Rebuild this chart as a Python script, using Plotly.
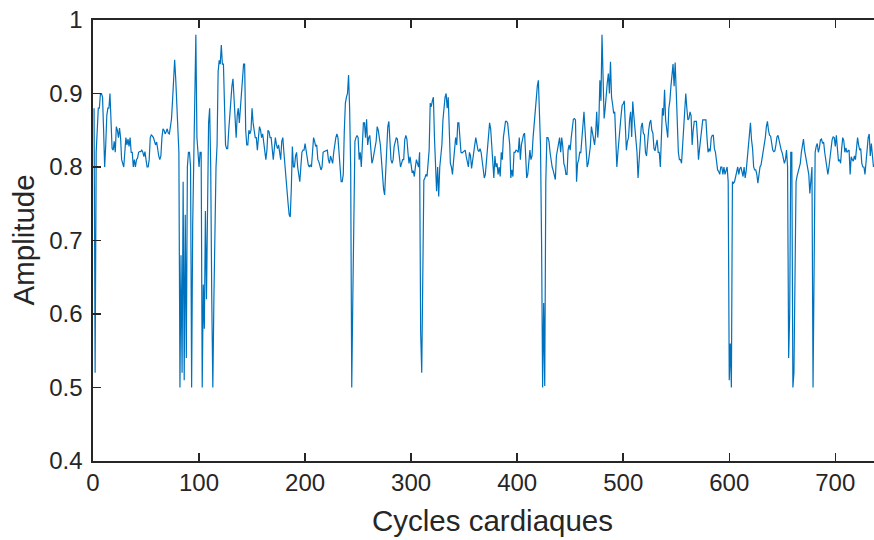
import numpy as np
import plotly.graph_objects as go

# Amplitude per cardiac cycle (cycles 1..736)
amp_001_050 = [0.88, 0.52, 0.82, 0.85, 0.88, 0.88, 0.90, 0.90, 0.895, 0.85,
               0.80, 0.83, 0.87, 0.88, 0.88, 0.90, 0.86, 0.825, 0.823, 0.835,
               0.82, 0.855, 0.85, 0.84, 0.853, 0.84, 0.81, 0.805, 0.80, 0.82,
               0.84, 0.83, 0.838, 0.828, 0.84, 0.82, 0.82, 0.80, 0.81, 0.80,
               0.81, 0.812, 0.82, 0.821, 0.821, 0.823, 0.82, 0.814, 0.821, 0.81]
amp_051_100 = [0.80, 0.80, 0.81, 0.84, 0.844, 0.842, 0.84, 0.835, 0.83, 0.834,
               0.82, 0.815, 0.81, 0.815, 0.84, 0.852, 0.85, 0.845, 0.848, 0.852,
               0.846, 0.845, 0.855, 0.865, 0.89, 0.92, 0.946, 0.92, 0.89, 0.85,
               0.82, 0.50, 0.68, 0.52, 0.78, 0.51, 0.735, 0.54, 0.80, 0.82,
               0.82, 0.80, 0.50, 0.72, 0.82, 0.90, 0.98, 0.84, 0.82, 0.80]
amp_101_150 = [0.82, 0.82, 0.50, 0.64, 0.58, 0.74, 0.62, 0.73, 0.86, 0.88,
               0.80, 0.62, 0.50, 0.62, 0.72, 0.80, 0.83, 0.93, 0.945, 0.94,
               0.966, 0.94, 0.94, 0.88, 0.83, 0.825, 0.825, 0.85, 0.87, 0.90,
               0.91, 0.92, 0.89, 0.86, 0.84, 0.87, 0.88, 0.86, 0.88, 0.90,
               0.92, 0.94, 0.94, 0.85, 0.83, 0.83, 0.85, 0.845, 0.85, 0.88]
amp_151_200 = [0.86, 0.845, 0.84, 0.84, 0.823, 0.84, 0.855, 0.85, 0.84, 0.845,
               0.83, 0.82, 0.81, 0.823, 0.85, 0.848, 0.84, 0.84, 0.82, 0.81,
               0.825, 0.84, 0.83, 0.825, 0.83, 0.82, 0.81, 0.835, 0.84, 0.82,
               0.80, 0.78, 0.765, 0.75, 0.735, 0.732, 0.77, 0.828, 0.80, 0.80,
               0.815, 0.82, 0.80, 0.785, 0.78, 0.80, 0.82, 0.823, 0.823, 0.832]
amp_201_250 = [0.82, 0.81, 0.803, 0.80, 0.803, 0.80, 0.815, 0.84, 0.835, 0.828,
               0.83, 0.81, 0.807, 0.80, 0.796, 0.80, 0.82, 0.821, 0.822, 0.823,
               0.823, 0.81, 0.805, 0.815, 0.81, 0.805, 0.82, 0.835, 0.84, 0.845,
               0.84, 0.82, 0.79, 0.78, 0.78, 0.79, 0.85, 0.887, 0.895, 0.90,
               0.925, 0.88, 0.80, 0.50, 0.62, 0.78, 0.835, 0.84, 0.843, 0.84]
amp_251_300 = [0.81, 0.82, 0.80, 0.83, 0.86, 0.86, 0.84, 0.865, 0.83, 0.84,
               0.843, 0.825, 0.805, 0.81, 0.82, 0.828, 0.835, 0.855, 0.85, 0.84,
               0.83, 0.81, 0.785, 0.77, 0.762, 0.80, 0.82, 0.855, 0.862, 0.835,
               0.81, 0.805, 0.81, 0.828, 0.835, 0.84, 0.838, 0.823, 0.814, 0.80,
               0.805, 0.81, 0.81, 0.837, 0.843, 0.838, 0.82, 0.805, 0.814, 0.80]
amp_301_350 = [0.792, 0.795, 0.787, 0.80, 0.81, 0.805, 0.80, 0.82, 0.575, 0.52,
               0.70, 0.782, 0.785, 0.79, 0.787, 0.81, 0.823, 0.887, 0.882, 0.89,
               0.895, 0.84, 0.79, 0.767, 0.80, 0.76, 0.80, 0.815, 0.83, 0.864,
               0.885, 0.895, 0.90, 0.88, 0.895, 0.85, 0.805, 0.80, 0.79, 0.808,
               0.83, 0.84, 0.83, 0.86, 0.86, 0.83, 0.82, 0.819, 0.82, 0.821]
amp_351_400 = [0.823, 0.814, 0.805, 0.80, 0.82, 0.815, 0.798, 0.81, 0.825, 0.83,
               0.84, 0.832, 0.823, 0.821, 0.825, 0.82, 0.81, 0.796, 0.785, 0.79,
               0.81, 0.83, 0.85, 0.86, 0.852, 0.83, 0.81, 0.785, 0.815, 0.80,
               0.805, 0.79, 0.80, 0.787, 0.82, 0.81, 0.84, 0.855, 0.862, 0.862,
               0.86, 0.845, 0.83, 0.785, 0.796, 0.787, 0.82, 0.82, 0.823, 0.822]
amp_401_450 = [0.82, 0.84, 0.81, 0.83, 0.84, 0.844, 0.846, 0.80, 0.785, 0.79,
               0.81, 0.823, 0.81, 0.815, 0.84, 0.86, 0.878, 0.893, 0.91, 0.918,
               0.87, 0.83, 0.70, 0.50, 0.615, 0.502, 0.78, 0.84, 0.84, 0.835,
               0.82, 0.805, 0.80, 0.795, 0.79, 0.783, 0.815, 0.825, 0.835, 0.84,
               0.82, 0.84, 0.828, 0.805, 0.80, 0.79, 0.79, 0.823, 0.83, 0.823]
amp_451_500 = [0.84, 0.855, 0.865, 0.866, 0.864, 0.78, 0.805, 0.81, 0.82, 0.819,
               0.835, 0.85, 0.875, 0.85, 0.82, 0.80, 0.805, 0.815, 0.828, 0.855,
               0.846, 0.838, 0.83, 0.845, 0.875, 0.84, 0.86, 0.918, 0.89, 0.98,
               0.91, 0.866, 0.88, 0.905, 0.915, 0.927, 0.90, 0.943, 0.895, 0.885,
               0.873, 0.875, 0.835, 0.80, 0.82, 0.84, 0.855, 0.87, 0.884, 0.886]
amp_501_550 = [0.89, 0.86, 0.823, 0.835, 0.84, 0.864, 0.875, 0.841, 0.889, 0.87,
               0.85, 0.84, 0.82, 0.785, 0.81, 0.83, 0.855, 0.86, 0.846, 0.844,
               0.82, 0.815, 0.84, 0.85, 0.86, 0.864, 0.85, 0.846, 0.825, 0.822,
               0.83, 0.837, 0.82, 0.82, 0.80, 0.86, 0.88, 0.87, 0.905, 0.864,
               0.855, 0.84, 0.88, 0.89, 0.91, 0.927, 0.94, 0.91, 0.942, 0.903]
amp_551_600 = [0.86, 0.82, 0.81, 0.81, 0.805, 0.83, 0.85, 0.887, 0.90, 0.88,
               0.864, 0.866, 0.875, 0.87, 0.83, 0.85, 0.862, 0.862, 0.862, 0.84,
               0.81, 0.825, 0.842, 0.85, 0.864, 0.864, 0.864, 0.864, 0.84, 0.82,
               0.825, 0.821, 0.84, 0.843, 0.843, 0.825, 0.82, 0.805, 0.796, 0.794,
               0.79, 0.80, 0.80, 0.79, 0.80, 0.79, 0.795, 0.80, 0.78, 0.51]
amp_601_650 = [0.56, 0.50, 0.78, 0.778, 0.78, 0.786, 0.79, 0.80, 0.79, 0.798,
               0.80, 0.79, 0.787, 0.80, 0.785, 0.795, 0.81, 0.83, 0.837, 0.86,
               0.837, 0.825, 0.80, 0.796, 0.796, 0.79, 0.778, 0.79, 0.80, 0.803,
               0.812, 0.82, 0.83, 0.84, 0.855, 0.862, 0.85, 0.843, 0.842, 0.83,
               0.823, 0.821, 0.822, 0.83, 0.841, 0.843, 0.835, 0.828, 0.823, 0.819]
amp_651_700 = [0.81, 0.805, 0.81, 0.823, 0.80, 0.54, 0.60, 0.82, 0.82, 0.50,
               0.52, 0.70, 0.78, 0.788, 0.795, 0.80, 0.805, 0.82, 0.83, 0.838,
               0.823, 0.815, 0.806, 0.795, 0.79, 0.764, 0.787, 0.80, 0.50, 0.66,
               0.82, 0.828, 0.832, 0.82, 0.826, 0.837, 0.838, 0.832, 0.834, 0.82,
               0.808, 0.80, 0.79, 0.80, 0.815, 0.82, 0.837, 0.841, 0.84, 0.828]
amp_701_736 = [0.843, 0.825, 0.808, 0.81, 0.805, 0.825, 0.84, 0.836, 0.82, 0.826,
               0.82, 0.822, 0.823, 0.79, 0.814, 0.81, 0.808, 0.815, 0.81, 0.825,
               0.84, 0.83, 0.823, 0.825, 0.805, 0.80, 0.80, 0.79, 0.81, 0.82,
               0.84, 0.845, 0.815, 0.832, 0.82, 0.80]

amplitude = (amp_001_050 + amp_051_100 + amp_101_150 + amp_151_200 + amp_201_250 +
             amp_251_300 + amp_301_350 + amp_351_400 + amp_401_450 + amp_451_500 +
             amp_501_550 + amp_551_600 + amp_601_650 + amp_651_700 + amp_701_736)
cycles = np.arange(1, len(amplitude) + 1)

x_ticks = [0, 100, 200, 300, 400, 500, 600, 700]
y_ticks = [0.4, 0.5, 0.6, 0.7, 0.8, 0.9, 1.0]
y_tick_labels = ["0.4", "0.5", "0.6", "0.7", "0.8", "0.9", "1"]
x_label = "Cycles cardiaques"
y_label = "Amplitude"

FONT = "Liberation Sans, Arial, Helvetica, sans-serif"
AXC = "#262626"

fig = go.Figure()
fig.add_trace(go.Scatter(x=cycles, y=amplitude, mode="lines",
                         line=dict(color="#0072BD", width=1.2),
                         showlegend=False, hoverinfo="skip"))

fig.update_layout(
    width=874, height=540,
    margin=dict(l=93, r=0, t=20, b=79, autoexpand=False),
    paper_bgcolor="white", plot_bgcolor="white",
    font=dict(family=FONT, size=24, color=AXC),
    showlegend=False,
    xaxis=dict(range=[0, 736.5], tickvals=x_ticks, ticks="inside", ticklen=8,
               tickwidth=1.5, tickcolor=AXC, showline=True, linecolor=AXC,
               linewidth=1.6, mirror="ticks", showgrid=False, zeroline=False,
               automargin=False,
               tickfont=dict(family=FONT, size=24, color=AXC)),
    yaxis=dict(range=[0.4, 1.0], tickvals=y_ticks, ticktext=y_tick_labels,
               ticks="inside", ticklen=8, tickwidth=1.5, tickcolor=AXC,
               showline=True, linecolor=AXC, linewidth=1.6, mirror=False,
               showgrid=False, zeroline=False, automargin=False,
               ticklabelstandoff=4,
               tickfont=dict(family=FONT, size=24, color=AXC)),
    annotations=[
        dict(text=x_label, xref="paper", yref="paper", x=0.511, y=-0.134,
             xanchor="center", yanchor="middle", showarrow=False,
             font=dict(family=FONT, size=29.5, color=AXC)),
        dict(text=y_label, xref="paper", yref="paper", x=-0.0896, y=0.5,
             xanchor="center", yanchor="middle", textangle=-90, showarrow=False,
             font=dict(family=FONT, size=29.5, color=AXC)),
    ],
)

page_fix = (
    "document.documentElement.style.margin='0';"
    "document.body.style.margin='0';"
    "document.body.style.overflow='hidden';"
    "document.documentElement.style.overflow='hidden';"
    "var gd=document.getElementById('{plot_id}');"
    "Plotly.relayout(gd,{width:874,height:540});"
)

fig.write_html("out.html",
               config={"responsive": False, "displayModeBar": False,
                       "staticPlot": True},
               post_script=page_fix)
